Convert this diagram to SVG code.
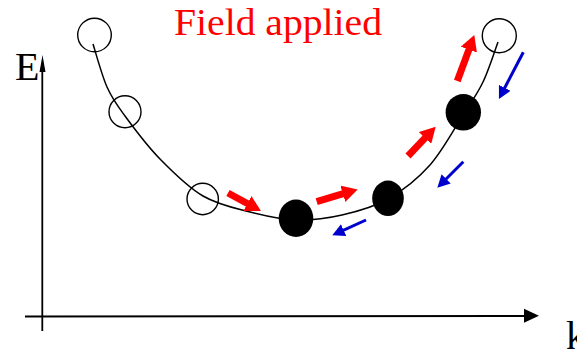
<svg xmlns="http://www.w3.org/2000/svg" width="577" height="353" viewBox="0 0 577 353">
  <style>
    .open { fill: none; stroke: #000; stroke-width: 1.4; }
    .full { fill: #000; stroke: none; }
    .axis { stroke: #000; stroke-width: 1.8; fill: none; }
    .red { stroke: #ff0000; stroke-width: 7; fill: none; marker-end: url(#redHead); }
    .blue { stroke: #0000cc; stroke-width: 3; fill: none; marker-end: url(#blueHead); }
  </style>
  <defs>
    <marker id="redHead" markerUnits="userSpaceOnUse" markerWidth="15.5" markerHeight="17" viewBox="0 0 15.5 17" refX="0.5" refY="8.5" orient="auto">
      <path d="M0,0 L15.5,8.5 L0,17 z" fill="#ff0000"/>
    </marker>
    <marker id="blueHead" markerUnits="userSpaceOnUse" markerWidth="12.5" markerHeight="13" viewBox="0 0 12.5 13" refX="0.5" refY="6.5" orient="auto">
      <path d="M0,0 L12.5,6.5 L0,13 z" fill="#0000cc"/>
    </marker>
  </defs>
  <rect width="577" height="353" fill="#fff"/>

  <g id="axes">
    <line class="axis" x1="42.3" y1="331" x2="42.3" y2="70"/>
    <polygon points="42.5,55 39.5,72 45.5,72" fill="#000"/>
    <line class="axis" x1="25" y1="316.5" x2="525" y2="316"/>
    <polygon points="539,315.8 524,308.8 524,322.8" fill="#000"/>
    <text x="15" y="80" font-size="40" font-family="Liberation Serif, serif" fill="#000">E</text>
    <text x="566" y="349" font-size="40" font-family="Liberation Serif, serif" fill="#000">k</text>
  </g>

  <text id="title" x="174" y="35" font-size="38" font-family="Liberation Serif, serif" fill="#ff0000" textLength="208" lengthAdjust="spacingAndGlyphs">Field applied</text>

  <g id="band">
    <path fill="none" stroke="#000" stroke-width="1.5" d="M93,44 C95.3,51.2 101.7,75 107,87 C112.3,99 116.2,104 125,116 C133.8,128 147,145.7 160,159 C173,172.3 188,187.2 203,196 C218,204.8 234.5,208 250,212 C265.5,216 280.7,219.5 296,220 C311.3,220.5 326.7,218.5 342,215 C357.3,211.5 373.3,207.3 388,199 C402.7,190.7 417.5,179 430,165 C442.5,151 454.2,128.8 463,115 C471.8,101.2 477.2,94.2 483,82 C488.8,69.8 495.5,48.7 498,42"/>
  </g>

  <g id="state1"><circle class="open" cx="94.5" cy="35" r="16.8"/></g>
  <g id="state2"><circle class="open" cx="125" cy="111.7" r="16"/></g>
  <g id="state3"><circle class="open" cx="202.7" cy="199" r="15.7"/></g>
  <g id="state4"><ellipse class="full" cx="296" cy="218.3" rx="17.3" ry="18.7"/></g>
  <g id="state5"><ellipse class="full" cx="388" cy="198.3" rx="15.8" ry="17.7"/></g>
  <g id="state6"><ellipse class="full" cx="463.3" cy="112.3" rx="17.7" ry="18.3"/></g>
  <g id="state7"><circle class="open" cx="499.3" cy="35.7" r="17"/></g>

  <g id="connectors">
    <line class="red" x1="228" y1="193" x2="247.8" y2="203.8"/>
    <line class="red" x1="316.7" y1="201.7" x2="343.3" y2="193.7"/>
    <line class="red" x1="408" y1="156" x2="425.4" y2="137.6"/>
    <line class="red" x1="457.3" y1="81" x2="469.1" y2="49.1"/>
    <line class="blue" x1="523.3" y1="52.3" x2="504.5" y2="88.3"/>
    <line class="blue" x1="463.3" y1="161.7" x2="445.8" y2="179.2"/>
    <line class="blue" x1="366" y1="220" x2="343.2" y2="230.3"/>
  </g>
</svg>
